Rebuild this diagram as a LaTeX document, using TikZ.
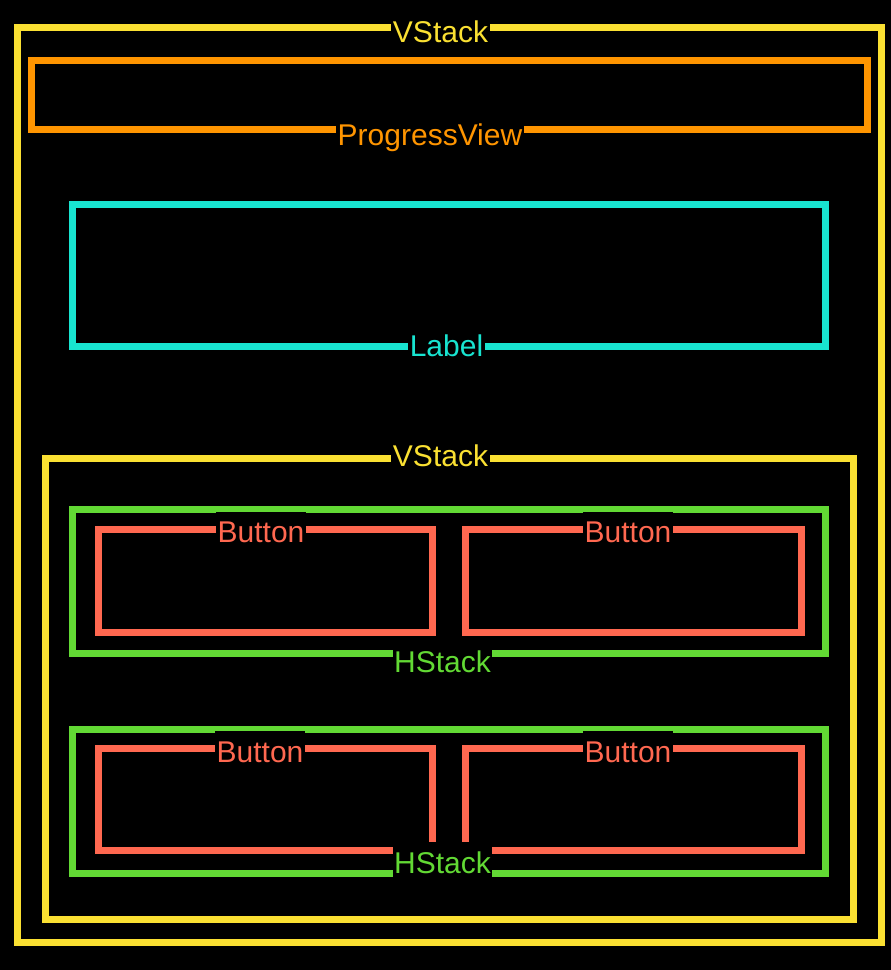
\documentclass[tikz,border=0pt]{standalone}
\usepackage{fontspec}
\setmainfont{Liberation Sans}
\definecolor{cyel}{RGB}{250,224,50}
\definecolor{cora}{RGB}{255,149,0}
\definecolor{ccya}{RGB}{24,228,208}
\definecolor{cgre}{RGB}{98,217,52}
\definecolor{cred}{RGB}{255,104,80}
\tikzset{
  box/.style={draw=#1, line width=7pt, fill=none},
  lbl/.style={text=#1, fill=black, anchor=base, inner xsep=1.5pt, inner ysep=2pt,
    text height=29pt, text depth=7pt, font=\fontsize{30}{36}\selectfont}
}
\begin{document}
\begin{tikzpicture}[x=1pt,y=-1pt]
\fill[black] (0,0) rectangle (891,970);
\useasboundingbox (0,0) rectangle (891,970);
% boxes
\draw[box=cyel] (17.5,27.5) rectangle (881.5,942.5);
\draw[box=cora] (31.5,60.5) rectangle (867.5,129.5);
\draw[box=ccya] (72.5,204.5) rectangle (825.5,346.5);
\draw[box=cyel] (45.5,458.5) rectangle (853.5,919.5);
\draw[box=cgre] (72.5,509.5) rectangle (825.5,653.5);
\draw[box=cred] (98.5,529.5) rectangle (432.5,632.5);
\draw[box=cred] (465.5,529.5) rectangle (801.5,632.5);
\draw[box=cgre] (72.5,729) rectangle (825.5,873.5);
\draw[box=cred] (98.5,748.5) rectangle (432.5,850.5);
\draw[box=cred] (465.5,748.5) rectangle (801.5,850.5);
% labels
\node[lbl=cyel] (lv1) at (440.5,42) {VStack};
\node[lbl=cora] (lpv) at (430,145) {ProgressView};
\node[lbl=ccya] (llb) at (446.5,356) {Label};
\node[lbl=cyel] (lv2) at (440.5,466) {VStack};
\node[lbl=cred] (lb1) at (261,542.5) {Button};
\node[lbl=cred] (lb2) at (628,542.5) {Button};
\node[lbl=cgre] (lh1) at (442.5,672) {HStack};
\node[lbl=cred] (lb3) at (260,762) {Button};
\node[lbl=cred] (lb4) at (628,762) {Button};
\node[lbl=cgre] (lh2) at (442.5,873) {HStack};
\end{tikzpicture}
\end{document}
